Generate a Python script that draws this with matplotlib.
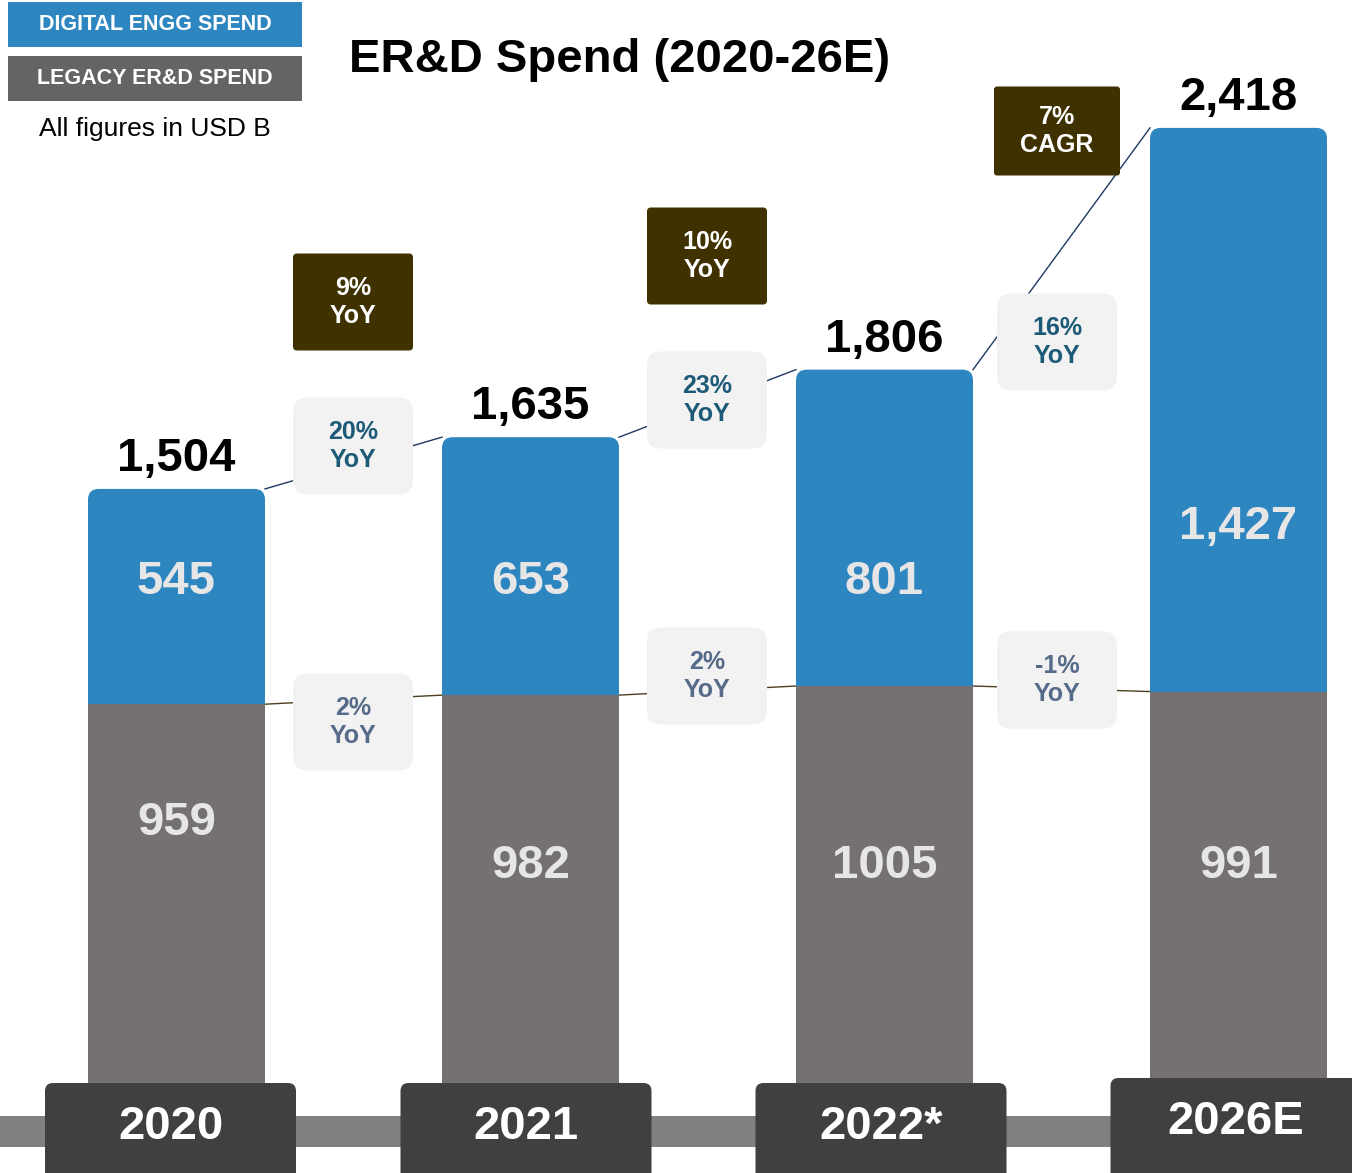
import numpy as np
import matplotlib
matplotlib.use("Agg")
import matplotlib.pyplot as plt
from matplotlib.patches import FancyBboxPatch, Rectangle

plt.rcParams['font.family'] = ['Liberation Sans', 'DejaVu Sans']

# data (USD B)
years = ["2020", "2021", "2022*", "2026E"]
legacy = [959, 982, 1005, 991]
digital = [545, 653, 801, 1427]
digital_yoy = ["20%", "23%", "16%"]
legacy_yoy = ["2%", "2%", "-1%"]
total_yoy = ["9%", "10%"]
cagr = "7%"

totals = [l + d for l, d in zip(legacy, digital)]

# colours
BLUE = "#2E86C1"
GREY = "#767171"
DARK = "#3F3100"
BADGE = "#404040"
BAND = "#808080"
PALE = "#F2F2F2"
SEG_TXT = "#E7E6E6"

# layout in pixels
W, H = 1352, 1173
BASE = 1083       # bar bottom
PPU = 0.395       # px per USD B
STEP = 354        # px between bars
X0 = 176.5        # first bar centre

fig = plt.figure(figsize=(W / 100, H / 100), dpi=100)

ax = fig.add_axes([0, 1 - BASE / H, 1, BASE / H])
ax.set_xlim(-X0 / STEP, (W - X0) / STEP)
ax.set_ylim(0, BASE / PPU)
ax.axis("off")
ax.set_zorder(1)

x = np.arange(len(years))
gray_bars = ax.bar(x, legacy, width=0.5, color=GREY, zorder=3)
blue_bars = ax.bar(x, digital, bottom=legacy, width=0.5, color=BLUE, zorder=2)

# rounded tops for the digital bars
for b in blue_bars:
    b.set_visible(False)
    ext = 40
    ax.add_patch(FancyBboxPatch((b.get_x(), b.get_y() - ext), b.get_width(), b.get_height() + ext,
                                boxstyle="round,pad=0,rounding_size=0.03",
                                mutation_aspect=STEP / PPU, fc=BLUE, ec="none", zorder=2))

# connector lines between bars
for i in range(len(years) - 1):
    ax.plot([i + 0.25, i + 0.75], [totals[i], totals[i + 1]], color="#1F3864", lw=1, zorder=1)
    ax.plot([i + 0.25, i + 0.75], [legacy[i], legacy[i + 1]], color="#4D4020", lw=1, zorder=1)

# totals on top
for xi, t in zip(x, totals):
    ax.annotate(f"{t:,}", (xi, t), xytext=(0, 13), textcoords="offset points",
                ha="center", va="baseline", fontsize=34, fontweight="bold", color="black")

# segment labels
blue_lab_px = [582, 582, 582, 527]
grey_lab_px = [823, 866, 866, 866]
for xi, d, yb, l, yg in zip(x, digital, blue_lab_px, legacy, grey_lab_px):
    ax.text(xi, (BASE - yb) / PPU, f"{d:,}", ha="center", va="center",
            fontsize=34, fontweight="bold", color=SEG_TXT, zorder=5)
    ax.text(xi, (BASE - yg) / PPU, str(l), ha="center", va="center",
            fontsize=34, fontweight="bold", color=SEG_TXT, zorder=5)

# overlay in pixel coordinates for boxes / badges / legend
ov = fig.add_axes([0, 0, 1, 1])
ov.set_xlim(0, W)
ov.set_ylim(H, 0)
ov.axis("off")
ov.set_zorder(2)


def box(cx, cy, w, h, fc, r=12, z=3):
    ov.add_patch(FancyBboxPatch((cx - w / 2, cy - h / 2), w, h,
                                boxstyle=f"round,pad=0,rounding_size={r}",
                                fc=fc, ec="none", zorder=z))


gap_x = [353, 707, 1057]
top_y = [446, 400, 342]
leg_y = [722, 676, 680]
for gx, ty, ly, dy, lyo in zip(gap_x, top_y, leg_y, digital_yoy, legacy_yoy):
    box(gx, ty, 120, 97, PALE, r=14)
    ov.text(gx, ty, f"{dy}\nYoY", ha="center", va="center", fontsize=18,
            fontweight="bold", color="#1D5A78", zorder=4)
    box(gx, ly, 120, 97, PALE, r=14)
    ov.text(gx, ly, f"{lyo}\nYoY", ha="center", va="center", fontsize=18,
            fontweight="bold", color="#566A8A", zorder=4)

dark_y = [302, 256]
for gx, dy, t in zip(gap_x, dark_y, total_yoy):
    box(gx, dy, 120, 97, DARK, r=4)
    ov.text(gx, dy, f"{t}\nYoY", ha="center", va="center", fontsize=18,
            fontweight="bold", color="white", zorder=4)

box(1057, 131, 126, 89, DARK, r=3)
ov.text(1057, 131, f"{cagr}\nCAGR", ha="center", va="center", fontsize=18,
        fontweight="bold", color="white", zorder=4)

# bottom band and year badges
ov.add_patch(Rectangle((0, 1116), W, 31, fc=BAND, ec="none", zorder=2))
badge_x = [170.5, 526, 881, 1236]
badge_top = [1083, 1083, 1083, 1078]
for bx, bt, yr in zip(badge_x, badge_top, years):
    ov.add_patch(FancyBboxPatch((bx - 125.5, bt), 251, 130,
                                boxstyle="round,pad=0,rounding_size=8",
                                fc=BADGE, ec="none", zorder=3))
    ov.text(bx, bt + 44, yr, ha="center", va="center", fontsize=34,
            fontweight="bold", color="white", zorder=4)

# legend and title
ov.add_patch(Rectangle((8, 2), 294, 45, fc=BLUE, ec="none", zorder=3))
ov.text(155, 25, "DIGITAL ENGG SPEND", ha="center", va="center", fontsize=15.5,
        fontweight="bold", color="white", zorder=4)
ov.add_patch(Rectangle((8, 56), 294, 45, fc="#646466", ec="none", zorder=3))
ov.text(155, 79, "LEGACY ER&D SPEND", ha="center", va="center", fontsize=15.5,
        fontweight="bold", color="white", zorder=4)
ov.text(155, 129, "All figures in USD B", ha="center", va="center", fontsize=19,
        color="black", zorder=4)

ov.text(620, 60, "ER&D Spend (2020-26E)", ha="center", va="center", fontsize=34,
        fontweight="bold", color="black", zorder=4)

fig.savefig("out.png", dpi=100)
